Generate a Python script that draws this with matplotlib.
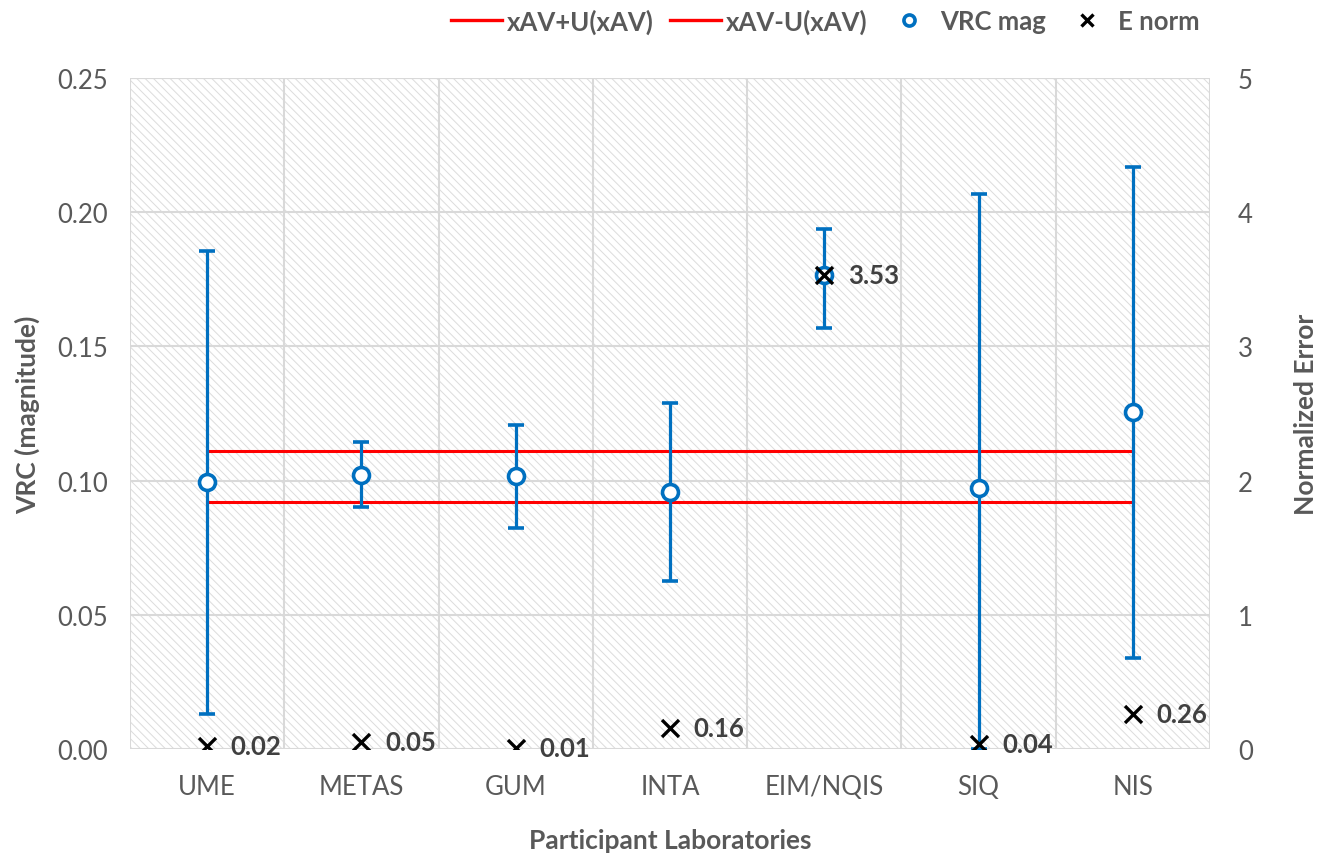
import matplotlib
matplotlib.use("Agg")
import matplotlib.pyplot as plt
import numpy as np
from matplotlib.patches import Rectangle
from matplotlib.lines import Line2D

plt.rcParams['font.family'] = ['Lato', 'DejaVu Sans']
plt.rcParams['hatch.linewidth'] = 0.7
plt.rcParams['hatch.color'] = '#dcdcdc'

labs = ["UME", "METAS", "GUM", "INTA", "EIM/NQIS", "SIQ", "NIS"]
vrc = [0.0995, 0.102, 0.1017, 0.0957, 0.1766, 0.0972, 0.1256]
err_up = [0.0860, 0.0124, 0.0190, 0.0332, 0.0171, 0.1096, 0.0912]
err_lo = [0.0865, 0.0120, 0.0194, 0.0331, 0.0197, 0.0972, 0.0917]
en = [0.02, 0.05, 0.01, 0.16, 3.53, 0.04, 0.26]
upper_ref = 0.111
lower_ref = 0.092

grey = '#595959'
blue = '#0070C0'

fig = plt.figure(figsize=(13.19, 8.54), dpi=100)
ax = fig.add_axes([130/1319, 1-750/854, 1080/1319, 671/854])
ax2 = ax.twinx()

x = np.arange(len(labs))
ax.set_xlim(-0.5, len(labs)-0.5)
ax.set_ylim(0, 0.25)
ax2.set_ylim(0, 5)

# hatched background
bg = Rectangle((0, 0), 1, 1, transform=ax.transAxes, facecolor='white',
               hatch='\\\\\\\\', lw=0, zorder=0)
ax.add_patch(bg)
border = Rectangle((0, 0), 1, 1, transform=ax.transAxes, facecolor='none',
                   edgecolor='#d9d9d9', lw=1.5, zorder=1)
ax.add_patch(border)
ax.set_axisbelow(True)

for yv in np.arange(0.05, 0.2501, 0.05):
    ax.axhline(yv, color='#d9d9d9', lw=1.5, zorder=1)
for xv in np.arange(0.5, len(labs)-0.5, 1):
    ax.axvline(xv, color='#d9d9d9', lw=1.5, zorder=1)

ax.plot([x[0], x[-1]], [upper_ref]*2, color='#FF0000', lw=2.2, zorder=3)
ax.plot([x[0], x[-1]], [lower_ref]*2, color='#FF0000', lw=2.2, zorder=3)

ax.errorbar(x, vrc, yerr=[err_lo, err_up], fmt='o', color=blue, ecolor=blue,
            elinewidth=2.3, capsize=5.5, capthick=2.3, markersize=11.5,
            markerfacecolor='white', markeredgecolor=blue, markeredgewidth=2.6,
            zorder=4)

ax2.scatter(x, en, marker='x', color='black', s=150, linewidths=2.4, zorder=5)
for xi, e in zip(x, en):
    ax2.annotate(f"{e:.2f}", (xi, e), xytext=(17, 0), textcoords='offset points',
                 va='center', ha='left', fontsize=18.5, fontweight='bold', color='#404040')

for a in (ax, ax2):
    for s in a.spines.values():
        s.set_visible(False)

ax.set_xticks(x)
ax.set_xticklabels(labs)
ax.set_yticks(np.arange(0, 0.2501, 0.05))
ax.set_yticklabels([f"{v:.2f}" for v in np.arange(0, 0.2501, 0.05)])
ax2.set_yticks(range(0, 6))
ax.tick_params(axis='y', length=0, labelsize=18.5, labelcolor=grey, pad=16)
ax.tick_params(axis='x', length=0, labelsize=18.5, labelcolor=grey, pad=18)
ax2.tick_params(axis='y', length=0, labelsize=18.5, labelcolor=grey, pad=20)

ax.set_xlabel("Participant Laboratories", fontsize=19, fontweight='bold', color=grey, labelpad=21)
ax.set_ylabel("VRC (magnitude)", fontsize=19, fontweight='bold', color=grey, labelpad=12)
ax2.set_ylabel("Normalized Error", fontsize=19, fontweight='bold', color=grey, rotation=90, labelpad=30)

handles = [
    Line2D([], [], color='#FF0000', lw=2.4),
    Line2D([], [], color='#FF0000', lw=2.4),
    Line2D([], [], marker='o', ls='none', markerfacecolor='white', markeredgecolor=blue,
           markeredgewidth=2.6, markersize=8),
    Line2D([], [], marker='x', ls='none', color='black', markeredgewidth=2.4, markersize=9),
]
leg = fig.legend(handles, ["xAV+U(xAV)", "xAV-U(xAV)", "VRC mag", "E norm"],
                 loc='center right', bbox_to_anchor=(1212/1319, 1-22/854), ncol=4, frameon=False,
                 prop={'size': 18.5, 'weight': 'bold'}, handlelength=2.0, handletextpad=0.2,
                 columnspacing=0.6, borderpad=0)
for t in leg.get_texts():
    t.set_color(grey)

fig.savefig("out.png", dpi=100)
